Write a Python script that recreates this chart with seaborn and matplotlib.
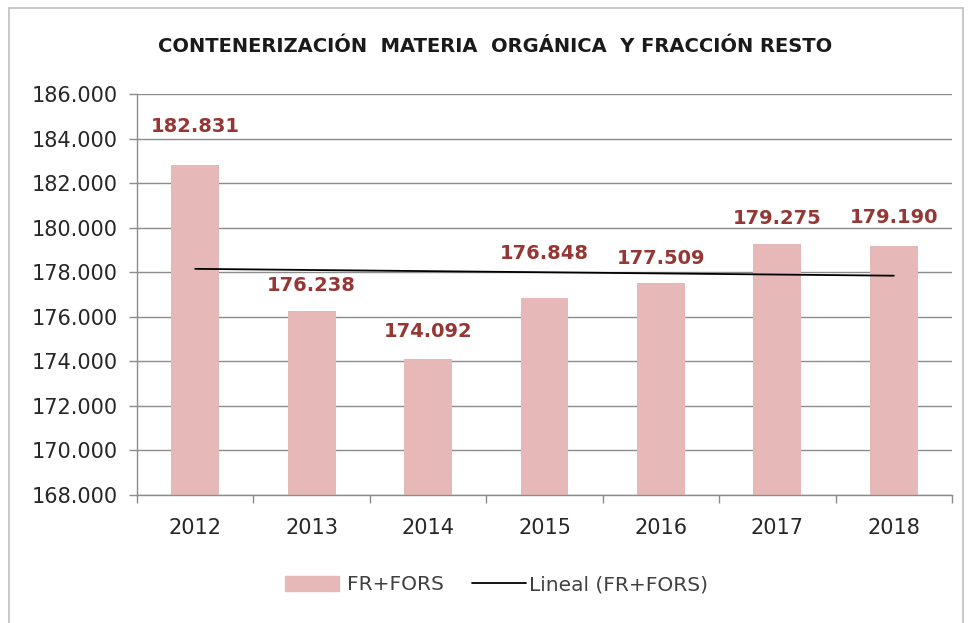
import numpy as np
import pandas as pd
import matplotlib
matplotlib.use('Agg')
import matplotlib.pyplot as plt
import matplotlib.patches as mpatches
from matplotlib.lines import Line2D
from matplotlib.ticker import FuncFormatter, FixedLocator
import seaborn as sns

# ── Data ──────────────────────────────────────────────────────────────
years  = ['2012', '2013', '2014', '2015', '2016', '2017', '2018']
values = [182831, 176238, 174092, 176848, 177509, 179275, 179190]
label_offset = [1700, 1150, 1250, 2000, 1100, 1150, 1250]   # label lift above bar

BAR_COLOR   = '#E6B9B8'
LABEL_COLOR = '#953735'
GRID_COLOR  = '#8c8c8c'

df = pd.DataFrame({'year': years, 'value': values})

sns.set_style('white')
plt.rcParams['font.family'] = ['DejaVu Sans']

fig = plt.figure(figsize=(9.71, 6.23), dpi=100)
ax = fig.add_axes([137 / 971, 1 - 495 / 623, (952 - 137) / 971, (495 - 94) / 623])

sns.barplot(data=df, x='year', y='value', color=BAR_COLOR, width=0.41,
            saturation=1, linewidth=0, ax=ax, zorder=2)

# linear trend (Excel "Lineal")
xs = np.arange(len(values))
k, b = np.polyfit(xs, values, 1)
ax.plot(xs, k * xs + b, color='black', lw=1.3, zorder=3)

# data labels
for i, (v, off) in enumerate(zip(values, label_offset)):
    ax.text(i, v + off, f'{v:,.0f}'.replace(',', '.'), ha='center', va='center',
            fontsize=14, fontweight='bold', color=LABEL_COLOR, zorder=4)

ax.set_ylim(168000, 186000)
ax.set_xlim(-0.5, len(years) - 0.5)
ax.set_yticks(np.arange(168000, 186001, 2000))
ax.yaxis.set_major_formatter(FuncFormatter(lambda v, p: f'{v:,.0f}'.replace(',', '.')))
ax.grid(axis='y', color=GRID_COLOR, lw=1, zorder=0)
ax.set_axisbelow(True)
ax.set_xlabel('')
ax.set_ylabel('')

for s in ['top', 'right']:
    ax.spines[s].set_visible(False)
for s in ['left', 'bottom']:
    ax.spines[s].set_color(GRID_COLOR)
    ax.spines[s].set_linewidth(1)

ax.tick_params(axis='y', which='major', left=True, length=6, width=1,
               color=GRID_COLOR, labelsize=15, labelcolor='#262626', pad=8)
ax.tick_params(axis='x', which='major', bottom=False, labelsize=15,
               labelcolor='#262626', pad=13)
ax.xaxis.set_minor_locator(FixedLocator(np.arange(-0.5, len(years), 1)))
ax.tick_params(axis='x', which='minor', bottom=True, length=6, width=1,
               color=GRID_COLOR)

# title
fig.text(0.51, 1 - 46 / 623,
         'CONTENERIZACIÓN  MATERIA  ORGÁNICA  Y FRACCIÓN RESTO',
         ha='center', va='center', fontsize=14, fontweight='bold', color='#1a1a1a')

# legend: two entries placed side by side
leg_y = 1 - 585 / 623
leg_kw = dict(frameon=False, fontsize=14.5, borderpad=0, borderaxespad=0,
              handlelength=2.7, labelcolor='#404040', loc='center left')
leg1 = fig.legend(handles=[mpatches.Patch(color=BAR_COLOR, label='FR+FORS')],
                  bbox_to_anchor=(285 / 971, leg_y), handletextpad=0.4,
                  handleheight=0.8, **leg_kw)
fig.legend(handles=[Line2D([0], [0], color='black', lw=1.3, label='Lineal (FR+FORS)')],
           bbox_to_anchor=(472 / 971, leg_y), handletextpad=0.15, **leg_kw)

# outer chart border
fig.patches.append(mpatches.Rectangle((8.5 / 971, -0.05), (963 - 8.5) / 971,
                                      1 - 8.5 / 623 + 0.05, transform=fig.transFigure,
                                      fill=False, edgecolor='#bfbfbf', lw=1.2))

fig.savefig('out.png', dpi=100)
